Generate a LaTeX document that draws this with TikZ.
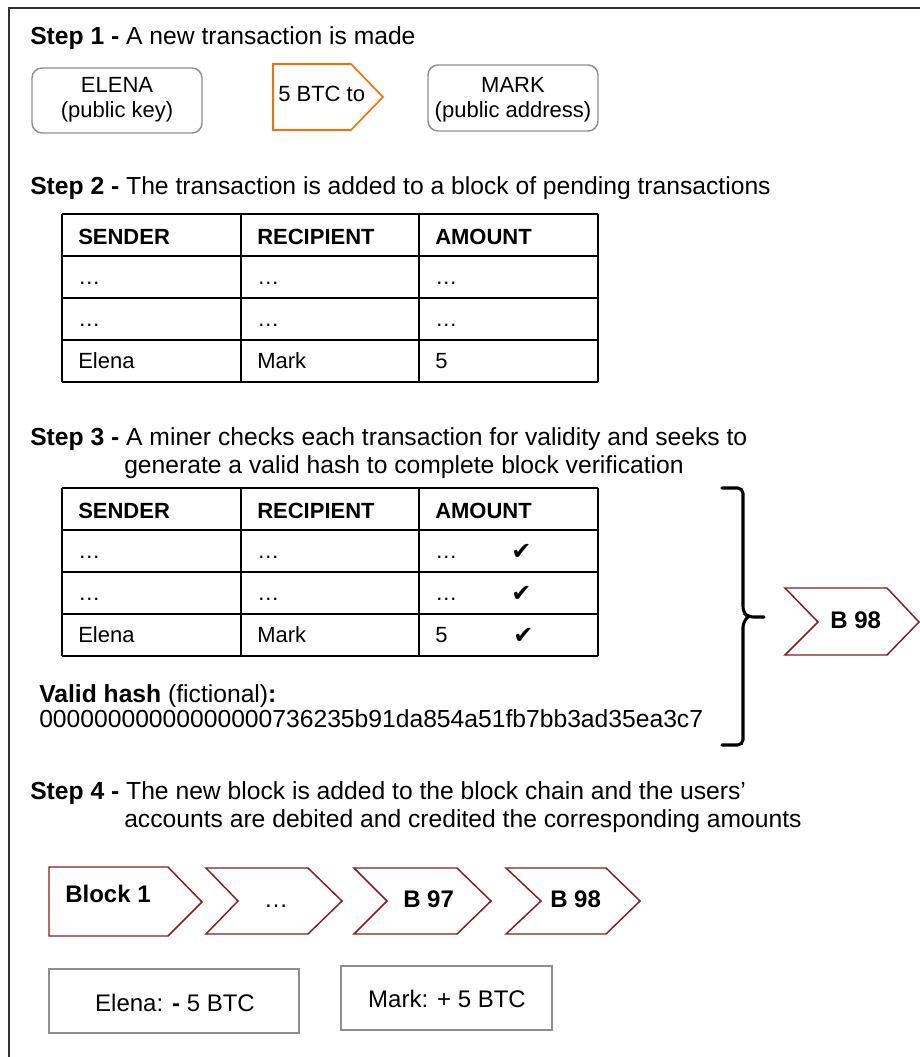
\documentclass[tikz,border=0pt]{standalone}
\usepackage{fontspec}
\setmainfont{Liberation Sans}
\newfontfamily\symfont{DejaVu Sans}
\definecolor{chev}{HTML}{8E1A1A}
\definecolor{orng}{HTML}{FF6D01}
\definecolor{boxgray}{HTML}{8F8F8F}
\definecolor{framec}{HTML}{333333}
\begin{document}
\begin{tikzpicture}[x=0.75pt,y=-0.75pt,
  txt/.style={inner sep=0pt, anchor=base west, font=\fontsize{18.5}{21}\selectfont},
  btxt/.style={inner sep=0pt, anchor=base west, font=\fontsize{18}{21}\selectfont},
  txtc/.style={inner sep=0pt, anchor=base, font=\fontsize{18}{21}\selectfont},
  tbl/.style={inner sep=0pt, anchor=base west, font=\fontsize{16.5}{19}\selectfont},
  boxtxt/.style={inner sep=0pt, anchor=base, font=\fontsize{16.5}{19}\selectfont},
  chk/.style={inner sep=0pt, anchor=base west, font=\symfont\fontsize{18}{20}\selectfont},
  rbox/.style={draw=boxgray, line width=1.1pt, rounded corners=7.5pt},
  sbox/.style={draw=boxgray, line width=1.1pt},
  chevron/.style={draw=chev, line width=1.1pt, line join=miter},
  tline/.style={line width=1.4pt, black},
  brace/.style={line width=2.3pt, black, rounded corners=4pt, line cap=round}
  ]
\useasboundingbox (0,0) rectangle (920,1057);
% frame
\draw[framec, line width=1.5pt] (9,1057) -- (9,8) -- (920,8);

% Step 1
\node[txt] (s1) at (30,44) {\textbf{Step 1 -} A new transaction is made};
\draw[rbox] (32,68) rectangle (202,133);
\node[boxtxt] (elena1) at (117,92) {ELENA};
\node[boxtxt] (elena2) at (117,117) {(public key)};
\draw[orng, line width=1.2pt, line join=miter] (273,64) -- (351,64) -- (383,97) -- (351,130) -- (273,130) -- cycle;
\node[tbl] (btc) at (278,101) {5 BTC to};
\draw[rbox] (428,65) rectangle (598,131);
\node[boxtxt] (mark1) at (513,92) {MARK};
\node[boxtxt] (mark2) at (513,117) {(public address)};

% Step 2
\node[txt] (s2) at (30,194) {\textbf{Step 2 -} The transaction is added to a block of pending transactions};
\foreach \i in {0,...,4} {\draw[tline] (62,214+42*\i) -- (598,214+42*\i);}
\foreach \xx in {62,241,419,598} {\draw[tline] (\xx,214) -- (\xx,382);}
\node[tbl] (a1) at (78,244) {\textbf{SENDER}};
\node[tbl] (a2) at (257,244) {\textbf{RECIPIENT}};
\node[tbl] (a3) at (435,244) {\textbf{AMOUNT}};
\node[tbl] (a4) at (78,284) {…};
\node[tbl] (a5) at (257,284) {…};
\node[tbl] (a6) at (435,284) {…};
\node[tbl] (a7) at (78,326) {…};
\node[tbl] (a8) at (257,326) {…};
\node[tbl] (a9) at (435,326) {…};
\node[tbl] (a10) at (78,368) {Elena};
\node[tbl] (a11) at (257,368) {Mark};
\node[tbl] (a12) at (435,368) {5};

% Step 3
\node[txt] (s3a) at (30,445) {\textbf{Step 3 -} A miner checks each transaction for validity and seeks to};
\node[txt] (s3b) at (124,473) {generate a valid hash to complete block verification};
\foreach \i in {0,...,4} {\draw[tline] (62,488+42*\i) -- (598,488+42*\i);}
\foreach \xx in {62,241,419,598} {\draw[tline] (\xx,488) -- (\xx,656);}
\node[tbl] (b1) at (78,518) {\textbf{SENDER}};
\node[tbl] (b2) at (257,518) {\textbf{RECIPIENT}};
\node[tbl] (b3) at (435,518) {\textbf{AMOUNT}};
\node[tbl] (b4) at (78,558) {…};
\node[tbl] (b5) at (257,558) {…};
\node[tbl] (b6) at (435,558) {…};
\node[tbl] (b7) at (78,600) {…};
\node[tbl] (b8) at (257,600) {…};
\node[tbl] (b9) at (435,600) {…};
\node[tbl] (b10) at (78,642) {Elena};
\node[tbl] (b11) at (257,642) {Mark};
\node[tbl] (b12) at (435,642) {5};
\node[chk] (c1) at (511,559) {✔};
\node[chk] (c2) at (511,601) {✔};
\node[chk] (c3) at (513,643) {✔};
\node[txt] (vh) at (39,702) {\textbf{Valid hash} (fictional)\textbf{:}};
\node[txt] (hash) at (39,727) {00000000000000000736235b91da854a51fb7bb3ad35ea3c7};
% brace
\draw[brace] (722,488) -- (743,488) -- (743,612) -- (748,617) -- (764,617);
\draw[brace] (748,617) -- (743,622) -- (743,745) -- (722,745);
\draw[chevron] (785,588) -- (887,588) -- (919,622) -- (887,655) -- (785,655) -- (818,622) -- cycle;
\node[btxt] (b98a) at (830,628) {\textbf{B 98}};

% Step 4
\node[txt] (s4a) at (30,799) {\textbf{Step 4 -} The new block is added to the block chain and the users’};
\node[txt] (s4b) at (124,827) {accounts are debited and credited the corresponding amounts};
\draw[chevron] (49,867) -- (168,867) -- (202,902) -- (168,936) -- (49,936) -- cycle;
\draw[chevron] (206,868) -- (308,868) -- (342,901) -- (308,934) -- (206,934) -- (238,901) -- cycle;
\draw[chevron] (354,868) -- (457,868) -- (491,901) -- (457,934) -- (354,934) -- (387,901) -- cycle;
\draw[chevron] (506,868) -- (606,868) -- (640,901) -- (606,934) -- (506,934) -- (541,901) -- cycle;
\node[btxt] (blk1) at (65,902) {\textbf{Block 1}};
\node[txtc] (dots) at (276,907) {…};
\node[btxt] (b97) at (403,907) {\textbf{B 97}};
\node[btxt] (b98b) at (550,907) {\textbf{B 98}};
\draw[sbox] (49,969) rectangle (299,1033);
\node[txtc] (elbal) at (175,1011) {Elena: \textbf{-} 5 BTC};
\draw[sbox] (341,966) rectangle (552,1030);
\node[txtc] (mkbal) at (447,1007) {Mark: + 5 BTC};
\end{tikzpicture}
\end{document}
